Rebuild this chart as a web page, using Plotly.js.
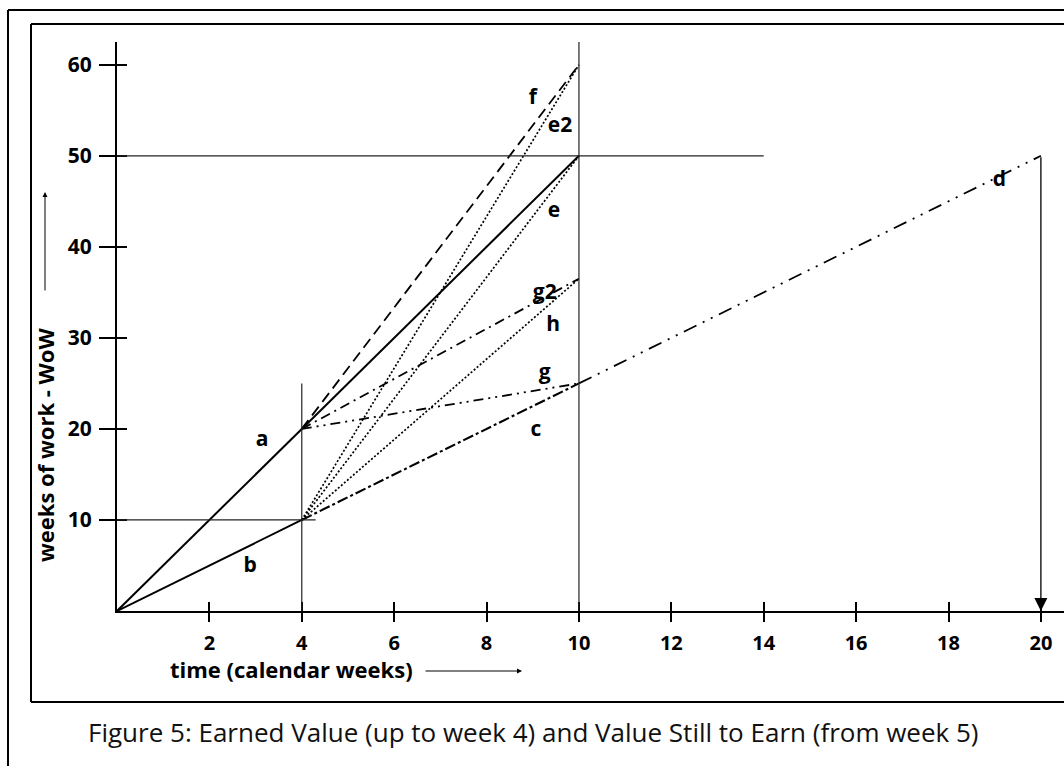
<!DOCTYPE html>
<html>
<head>
<meta charset="utf-8">
<script src="https://cdn.plot.ly/plotly-3.0.1.min.js"></script>
<style>
  html, body { margin: 0; padding: 0; background: #fff; }
  #chart { width: 1064px; height: 766px; }
</style>
</head>
<body>
<div id="chart"></div>
<script>
// ---- data (weeks, weeks of work) ----
const xTicks = [2, 4, 6, 8, 10, 12, 14, 16, 18, 20];
const yTicks = [10, 20, 30, 40, 50, 60];

const lineA_x = [0, 4];   const lineA_y = [0, 20];
const lineB_x = [0, 4];   const lineB_y = [0, 10];
const lineAe_x = [4, 10]; const lineAe_y = [20, 50];   // solid continuation
const lineF_x = [4, 10];  const lineF_y = [20, 60];    // long dash
const lineG2_x = [4, 10]; const lineG2_y = [20, 36.5]; // dash-dot
const lineG_x = [4, 10];  const lineG_y = [20, 25];    // dash-dot-dot
const lineE2_x = [4, 10]; const lineE2_y = [10, 60];   // dotted
const lineE_x = [4, 10];  const lineE_y = [10, 50];    // dotted
const lineH_x = [4, 10];  const lineH_y = [10, 36.5];  // dotted
const lineC_x = [4, 10];  const lineC_y = [10, 25];    // dashed
const lineD_x = [10, 20]; const lineD_y = [25, 50];    // dash-dot-dot

// guide lines
const hGuide50 = {y: 50, x0: 0, x1: 14};
const hGuide10 = {y: 10, x0: 0, x1: 4.3};
const vGuide4 = {x: 4, y0: 0, y1: 25};
const vGuide10 = {x: 10, y0: 0, y1: 62.5};
const dropArrow = {x: 20, yFrom: 50, yTo: 0};

const labelText = ['a', 'b', 'c', 'd', 'e', 'e2', 'f', 'g', 'g2', 'h'];
const labelX = [3.14, 2.88, 9.07, 19.1, 9.46, 9.59, 9.0, 9.26, 9.26, 9.44];
const labelY = [18.7, 4.9, 19.8, 47.3, 43.9, 53.2, 56.3, 26.1, 34.9, 31.3];

// ---- layout geometry ----
const W = 1064, H = 766;
const L = 117, T = 42, B = 155, R = 0;
const plotW = W - L - R, plotH = H - T - B;
const px = v => (v - L) / plotW;
const py = v => (H - B - v) / plotH;

const FONT = '"Open Sans", Lato, sans-serif';
const XR = [0, 20.5], YR = [0, 62.5];

function seg(x, y, dash, width) {
  return {x: x, y: y, type: 'scatter', mode: 'lines', hoverinfo: 'skip',
    showlegend: false, line: {color: '#000', width: width || 1.8, dash: dash}};
}

const traces = [
  seg(lineA_x, lineA_y, 'solid', 2),
  seg(lineB_x, lineB_y, 'solid', 2),
  seg(lineAe_x, lineAe_y, 'solid', 2),
  seg(lineF_x, lineF_y, '11px,6px', 1.8),
  seg(lineG2_x, lineG2_y, '10px,5px,2px,5px', 1.8),
  seg(lineG_x, lineG_y, '10px,5px,2px,5px,2px,5px', 1.8),
  seg(lineE2_x, lineE2_y, '2px,2px', 1.7),
  seg(lineE_x, lineE_y, '2px,2px', 1.7),
  seg(lineH_x, lineH_y, '2px,2px', 1.7),
  seg(lineC_x, lineC_y, '11px,3px,3px,3px', 2.1),
  seg(lineD_x, lineD_y, '14px,7px,2px,7px,2px,7px', 1.8),
  {x: labelX, y: labelY, text: labelText, type: 'scatter', mode: 'text',
   textposition: 'middle center', hoverinfo: 'skip', showlegend: false,
   textfont: {family: FONT, size: 21, color: '#000', weight: 700}},
  // overlay axes carrier (for inner tick halves)
  {x: [null], y: [null], xaxis: 'x2', yaxis: 'y2', type: 'scatter', mode: 'lines',
   hoverinfo: 'skip', showlegend: false}
];

const guideLine = {color: '#222', width: 1.2};
const shapes = [
  // outer frame
  {type: 'line', xref: 'paper', yref: 'paper', x0: px(8), x1: px(8), y0: py(10), y1: py(800), line: {color: '#000', width: 2}},
  {type: 'line', xref: 'paper', yref: 'paper', x0: px(8), x1: px(1100), y0: py(10), y1: py(10), line: {color: '#000', width: 2}},
  // inner frame
  {type: 'line', xref: 'paper', yref: 'paper', x0: px(31), x1: px(31), y0: py(24), y1: py(702), line: {color: '#000', width: 2}},
  {type: 'line', xref: 'paper', yref: 'paper', x0: px(31), x1: px(1100), y0: py(24), y1: py(24), line: {color: '#000', width: 2}},
  {type: 'line', xref: 'paper', yref: 'paper', x0: px(31), x1: px(1100), y0: py(702), y1: py(702), line: {color: '#000', width: 2}},
  // guides
  {type: 'line', xref: 'x', yref: 'y', x0: hGuide50.x0, x1: hGuide50.x1, y0: hGuide50.y, y1: hGuide50.y, line: guideLine},
  {type: 'line', xref: 'x', yref: 'y', x0: hGuide10.x0, x1: hGuide10.x1, y0: hGuide10.y, y1: hGuide10.y, line: guideLine},
  {type: 'line', xref: 'x', yref: 'y', x0: vGuide4.x, x1: vGuide4.x, y0: vGuide4.y0, y1: vGuide4.y1, line: guideLine},
  {type: 'line', xref: 'x', yref: 'y', x0: vGuide10.x, x1: vGuide10.x, y0: vGuide10.y0, y1: vGuide10.y1, line: guideLine}
];

const annotations = [
  // drop arrow at week 20
  {x: dropArrow.x, y: dropArrow.yTo, ax: dropArrow.x, ay: dropArrow.yFrom, xref: 'x', yref: 'y',
   axref: 'x', ayref: 'y', text: '', showarrow: true, arrowhead: 2, arrowsize: 2,
   arrowwidth: 1.3, arrowcolor: '#000', standoff: 0},
  // axis titles
  {xref: 'paper', yref: 'paper', x: px(45), y: py(445), text: 'weeks of work - WoW', textangle: -90,
   showarrow: false, font: {family: FONT, size: 22, color: '#000', weight: 700}, xanchor: 'center', yanchor: 'middle'},
  {xref: 'paper', yref: 'paper', x: px(45), y: py(192), ax: 0, ay: 100, text: '', showarrow: true,
   arrowhead: 2, arrowsize: 1, arrowwidth: 1, arrowcolor: '#000', standoff: 0},
  {xref: 'paper', yref: 'paper', x: px(291), y: py(669), text: 'time (calendar weeks)',
   showarrow: false, font: {family: FONT, size: 22, color: '#000', weight: 700}, xanchor: 'center', yanchor: 'middle'},
  {xref: 'paper', yref: 'paper', x: px(522), y: py(671), ax: -98, ay: 0, text: '', showarrow: true,
   arrowhead: 2, arrowsize: 1, arrowwidth: 1, arrowcolor: '#000', standoff: 0},
  // caption
  {xref: 'paper', yref: 'paper', x: px(533), y: py(732), text: 'Figure 5: Earned Value (up to week 4) and Value Still to Earn (from week 5)',
   showarrow: false, font: {family: FONT, size: 26, color: '#111'}, xanchor: 'center', yanchor: 'middle'}
];

const layout = {
  width: W, height: H,
  margin: {l: L, r: R, t: T, b: B, pad: 0},
  paper_bgcolor: '#fff', plot_bgcolor: '#fff',
  showlegend: false,
  xaxis: {range: XR, showgrid: false, zeroline: false, showline: true, linecolor: '#000', linewidth: 2,
          tickmode: 'array', tickvals: xTicks, ticktext: xTicks.map(String),
          ticks: 'outside', ticklen: 9, tickwidth: 2, tickcolor: '#000', ticklabelstandoff: 4,
          tickfont: {family: FONT, size: 20, color: '#000', weight: 700}, fixedrange: true},
  yaxis: {range: YR, showgrid: false, zeroline: false, showline: true, linecolor: '#000', linewidth: 2,
          tickmode: 'array', tickvals: yTicks, ticktext: yTicks.map(String),
          ticks: 'outside', ticklen: 16, tickwidth: 2, tickcolor: '#000', ticklabelstandoff: 3,
          tickfont: {family: FONT, size: 21, color: '#000', weight: 700}, fixedrange: true},
  xaxis2: {range: XR, overlaying: 'x', anchor: 'y2', side: 'bottom', showgrid: false, zeroline: false,
           showline: false, tickmode: 'array', tickvals: xTicks, ticks: 'inside', ticklen: 9, tickwidth: 2,
           tickcolor: '#000', showticklabels: false, fixedrange: true},
  yaxis2: {range: YR, overlaying: 'y', anchor: 'x2', side: 'left', showgrid: false, zeroline: false,
           showline: false, tickmode: 'array', tickvals: yTicks, ticks: 'inside', ticklen: 10, tickwidth: 2,
           tickcolor: '#000', showticklabels: false, fixedrange: true},
  shapes: shapes,
  annotations: annotations
};

Plotly.newPlot('chart', traces, layout, {staticPlot: true, displayModeBar: false});
</script>
</body>
</html>
